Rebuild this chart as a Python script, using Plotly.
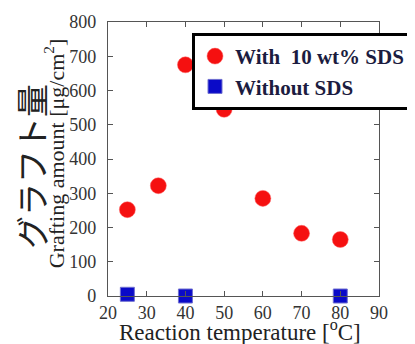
import plotly.graph_objects as go

temp_sds = [25, 33, 40, 50, 60, 70, 80]
graft_sds = [252, 322, 675, 545, 285, 183, 165]
temp_nosds = [25, 40, 80]
graft_nosds = [5, 0, 0]

x_ticks = [20, 30, 40, 50, 60, 70, 80, 90]
y_ticks = [0, 100, 200, 300, 400, 500, 600, 700, 800]

serif = "Liberation Serif"

fig = go.Figure()
fig.add_trace(go.Scatter(
    x=temp_sds, y=graft_sds, mode="markers", name="With  10 wt% SDS",
    marker=dict(symbol="circle", size=16, color="#f51010", line=dict(width=0.5, color="#ff6060")),
    cliponaxis=False,
))
fig.add_trace(go.Scatter(
    x=temp_nosds, y=graft_nosds, mode="markers", name="Without SDS",
    marker=dict(symbol="square", size=14, color="#0a0ac8", line=dict(width=1, color="#7070d0")),
    cliponaxis=False,
))

axis_common = dict(
    showline=True, linecolor="#555555", linewidth=1.2, mirror="ticks",
    ticks="inside", ticklen=5, tickcolor="#555555", tickwidth=1,
    showgrid=False, zeroline=False, automargin=False,
    tickfont=dict(family=serif, size=18, color="#333333"),
)

# page body has an 8px margin, so the figure is offset by (8, 8)
fig.update_layout(
    width=407, height=336,
    margin=dict(l=100, r=36, t=14, b=48, autoexpand=False),
    paper_bgcolor="white", plot_bgcolor="white",
    font=dict(family=serif),
    xaxis=dict(range=[20, 90], tickvals=x_ticks, ticktext=[str(v) for v in x_ticks],
               ticklabelstandoff=0, **axis_common),
    yaxis=dict(range=[0, 800], tickvals=y_ticks, ticktext=[str(v) for v in y_ticks],
               ticklabelstandoff=7, **axis_common),
    showlegend=True,
    legend=dict(x=0.31, y=0.96, xanchor="left", yanchor="top",
                bgcolor="white", bordercolor="black", borderwidth=3,
                font=dict(family=serif, size=21, color="#1c1c40", weight="bold"),
                itemsizing="trace", tracegroupgap=0),
    annotations=[
        dict(text="Reaction temperature [<sup>o</sup>C]", xref="paper", yref="paper",
             x=0.487, y=-0.125, xanchor="center", yanchor="middle", showarrow=False,
             font=dict(family=serif, size=23, color="#222222")),
        dict(text="グラフト量", xref="paper", yref="paper",
             x=-0.285, y=0.474, xanchor="center", yanchor="middle", showarrow=False, textangle=-90,
             font=dict(family="Noto Sans CJK JP", size=33, color="#222222")),
        dict(text="Grafting amount [μg/cm<sup>2</sup>]", xref="paper", yref="paper",
             x=-0.198, y=0.522, xanchor="center", yanchor="middle", showarrow=False, textangle=-90,
             font=dict(family=serif, size=22, color="#222222")),
    ],
)

fig.write_html("out.html")
